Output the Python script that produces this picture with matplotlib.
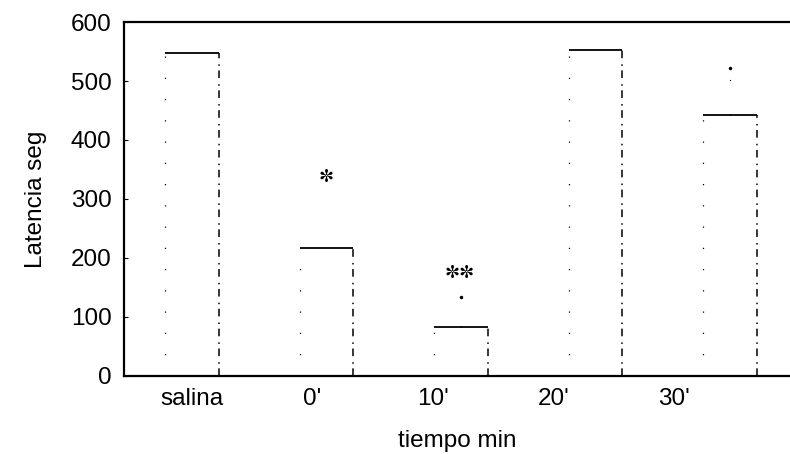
import numpy as np
import matplotlib
matplotlib.use("Agg")
import matplotlib.pyplot as plt

# ── data ─────────────────────────────────────────────────────────────────────
groups = ["salina", "0'", "10'", "20'", "30'"]
latency = [547, 217, 83, 553, 443]        # bar height (s)
err_top = [547, 217, 134, 553, 522]       # visible upper end of error bar (s)
stars = ["✼", "✼✼"]
star_pos = [1.0, 1.99]
star_y = [337, 175]

# the scan has the labels drifting left of the bars
label_step = 0.895
bar_w = 0.40

plt.rcParams["font.family"] = ["Liberation Sans", "DejaVu Sans"]

fig = plt.figure(figsize=(7.9, 4.54), dpi=100)
ax = fig.add_axes([0.157, 0.172, 0.843, 0.7795])

x = np.arange(len(groups))
ax.bar(x, latency, width=bar_w, color="white", edgecolor="none", zorder=1)

left = x - bar_w / 2
right = x + bar_w / 2
# faded outlines: top solid, right side broken, left side barely visible
ax.hlines(latency, left, right, colors="black", lw=1.3, zorder=2)
ax.vlines(right, 0, latency, colors="black", lw=1.1,
          linestyles=[(0, (5, 3, 1, 4))], zorder=2)
ax.vlines(left, 0, latency, colors="black", lw=0.9,
          linestyles=[(0, (1, 16))], zorder=2)

# error bars only show as faint specks above the bars
for xi, m, e in zip(x, latency, err_top):
    if e > m:
        ax.vlines(xi, m, e, colors="black", lw=0.8,
                  linestyles=[(0, (1, 30))], zorder=2)
        ax.plot(xi, e, marker=".", ms=3, color="black", zorder=3)

for s, sx, sy in zip(stars, star_pos, star_y):
    ax.text(sx, sy, s, ha="center", va="center", fontsize=13,
            family=["DejaVu Sans"])

ax.set_ylim(0, 600)
ax.set_xlim(-0.506, 4.446)
ax.set_yticks([0, 100, 200, 300, 400, 500, 600])
ax.set_xticks(x * label_step)
ax.set_xticklabels(groups)
ax.tick_params(axis="x", length=0, pad=9, labelsize=17.5)
ax.tick_params(axis="y", direction="in", length=3, pad=9, labelsize=17.5)

ax.set_ylabel("Latencia seg", fontsize=17.5, labelpad=17)
ax.set_xlabel("tiempo min", fontsize=17.5, labelpad=14)

for side in ["left", "top", "bottom"]:
    ax.spines[side].set_linewidth(1.6)
ax.spines["right"].set_visible(False)

fig.savefig("out.png", dpi=100)
